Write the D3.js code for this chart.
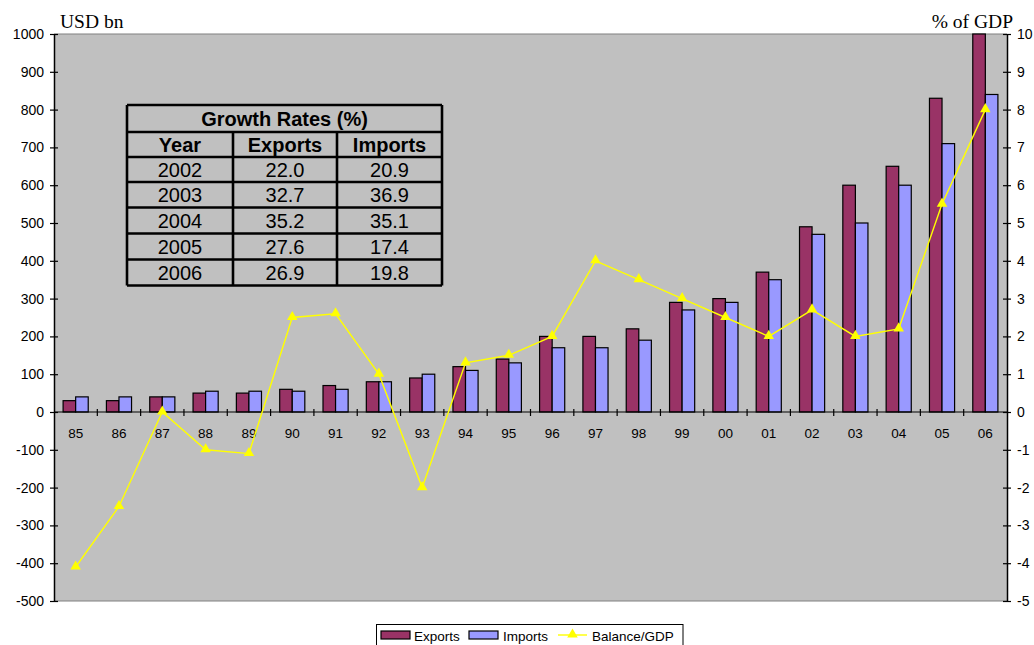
<!DOCTYPE html>
<html>
<head>
<meta charset="utf-8">
<script src="https://cdn.jsdelivr.net/npm/d3@7/dist/d3.min.js"></script>
<style>
  html, body { margin: 0; padding: 0; background: #ffffff; }
  svg { display: block; }
</style>
</head>
<body>
<svg id="chart" width="1034" height="645"></svg>
<script>
// Trade values (USD bn) and trade balance (% of GDP), 1985–2006
const years = ["85","86","87","88","89","90","91","92","93","94","95","96","97","98","99","00","01","02","03","04","05","06"];
const exportsBn = [30,30,40,50,50,60,70,80,90,120,140,200,200,220,290,300,370,490,600,650,830,1000];
const importsBn = [40,40,40,55,55,55,60,80,100,110,130,170,170,190,270,290,350,470,500,600,710,840];
const balanceGdp = [-4.1,-2.5,0,-1.0,-1.1,2.5,2.6,1.0,-2.0,1.3,1.5,2.0,4.0,3.5,3.0,2.5,2.0,2.7,2.0,2.2,5.5,8.0];

const leftTicks = [1000,900,800,700,600,500,400,300,200,100,0,-100,-200,-300,-400,-500];
const rightTicks = [10,9,8,7,6,5,4,3,2,1,0,-1,-2,-3,-4,-5];

// Inset table of growth rates
const tableTitle = "Growth Rates (%)";
const tableHeader = ["Year","Exports","Imports"];
const tableYears = ["2002","2003","2004","2005","2006"];
const tableExports = ["22.0","32.7","35.2","27.6","26.9"];
const tableImports = ["20.9","36.9","35.1","17.4","19.8"];

const seriesNames = ["Exports","Imports","Balance/GDP"];
const colors = { exports: "#993366", imports: "#9999ff", line: "#ffff00" };

const svg = d3.select("#chart");
const plot = { left: 54, right: 1007, top: 34, bottom: 601 };
const sans = "'Liberation Sans', Arial, sans-serif";
const serif = "'Liberation Serif', 'Times New Roman', serif";
const plainNum = d => String(d);   // plain hyphen-minus, no thousands separator

const x = d3.scaleBand().domain(years).range([plot.left, plot.right]).paddingInner(0).paddingOuter(0);
const yL = d3.scaleLinear().domain([-500, 1000]).range([plot.bottom, plot.top]);
const yR = d3.scaleLinear().domain([-5, 10]).range([plot.bottom, plot.top]);

const groupFrac = 0.58;
const barW = x.bandwidth() * groupFrac / 2;

// plot background
svg.append("rect")
  .attr("x", plot.left).attr("y", plot.top)
  .attr("width", plot.right - plot.left).attr("height", plot.bottom - plot.top)
  .attr("fill", "#c0c0c0");
svg.append("line").attr("x1", plot.left).attr("x2", plot.right).attr("y1", plot.top).attr("y2", plot.top)
  .attr("stroke", "#808080").attr("stroke-width", 1.2);
svg.append("line").attr("x1", plot.left).attr("x2", plot.right).attr("y1", plot.bottom).attr("y2", plot.bottom)
  .attr("stroke", "#808080").attr("stroke-width", 1.2);

// bars
const groups = svg.append("g").selectAll("g").data(years).join("g")
  .attr("transform", d => `translate(${x(d) + x.bandwidth() / 2 - barW},0)`);
groups.append("rect")
  .attr("x", 0).attr("width", barW)
  .attr("y", (d, i) => yL(exportsBn[i])).attr("height", (d, i) => yL(0) - yL(exportsBn[i]))
  .attr("fill", colors.exports).attr("stroke", "#000").attr("stroke-width", 1.2);
groups.append("rect")
  .attr("x", barW).attr("width", barW)
  .attr("y", (d, i) => yL(importsBn[i])).attr("height", (d, i) => yL(0) - yL(importsBn[i]))
  .attr("fill", colors.imports).attr("stroke", "#000").attr("stroke-width", 1.2);

// category axis at zero
const catAxis = svg.append("g");
catAxis.append("line").attr("x1", plot.left).attr("x2", plot.right).attr("y1", yL(0)).attr("y2", yL(0))
  .attr("stroke", "#000").attr("stroke-width", 1.2);
catAxis.selectAll("line.tk").data(years.slice(1)).join("line").attr("class", "tk")
  .attr("x1", d => x(d)).attr("x2", d => x(d)).attr("y1", yL(0) - 3).attr("y2", yL(0) + 4)
  .attr("stroke", "#000").attr("stroke-width", 1.2);
catAxis.selectAll("text").data(years).join("text")
  .attr("x", d => x(d) + x.bandwidth() / 2).attr("y", yL(0) + 26)
  .attr("text-anchor", "middle").attr("font-family", sans).attr("font-size", 13.5).attr("fill", "#000")
  .text(d => d);

// left axis
const leftAxis = d3.axisLeft(yL).tickValues(leftTicks).tickFormat(plainNum).tickSize(0).tickPadding(10);
const gl = svg.append("g").attr("transform", `translate(${plot.left},0)`).call(leftAxis);
gl.select(".domain").attr("stroke", "#000").attr("stroke-width", 1.5);
gl.selectAll(".tick text").attr("font-family", sans).attr("font-size", 14).attr("fill", "#000");
gl.selectAll(".tick").append("line").attr("x1", -4).attr("x2", 4).attr("stroke", "#000").attr("stroke-width", 1.2);

// right axis
const rightAxis = d3.axisRight(yR).tickValues(rightTicks).tickFormat(plainNum).tickSize(0).tickPadding(10);
const gr = svg.append("g").attr("transform", `translate(${plot.right},0)`).call(rightAxis);
gr.select(".domain").attr("stroke", "#000").attr("stroke-width", 1.5);
gr.selectAll(".tick text").attr("font-family", sans).attr("font-size", 14).attr("fill", "#000");
gr.selectAll(".tick").append("line").attr("x1", -4).attr("x2", 4).attr("stroke", "#000").attr("stroke-width", 1.2);

// axis titles
svg.append("text").attr("x", 60).attr("y", 28).attr("font-family", serif).attr("font-size", 19.5)
  .attr("fill", "#000").text("USD bn");
svg.append("text").attr("x", 1013).attr("y", 28).attr("text-anchor", "end").attr("font-family", serif)
  .attr("font-size", 19.5).attr("fill", "#000").text("% of GDP");

// balance line
const lineGen = d3.line().x((d, i) => x(years[i]) + x.bandwidth() / 2).y(d => yR(d));
svg.append("path").datum(balanceGdp).attr("d", lineGen)
  .attr("fill", "none").attr("stroke", colors.line).attr("stroke-width", 1.4);
const tri = d3.symbol().type(d3.symbolTriangle).size(48);
svg.append("g").selectAll("path").data(balanceGdp).join("path")
  .attr("transform", (d, i) => `translate(${x(years[i]) + x.bandwidth() / 2},${yR(d) - 0.5})`)
  .attr("d", tri).attr("fill", colors.line);

// growth-rate table
const tbl = { left: 127, top: 105, cols: [127, 233, 337, 442], rowH: [27, 25, 25, 25.5, 26, 26, 26] };
const rowY = [tbl.top];
tbl.rowH.forEach(h => rowY.push(rowY[rowY.length - 1] + h));
const tg = svg.append("g");
const stroke = { stroke: "#000", w: 2.6 };
// horizontal rules
rowY.forEach(yy => {
  tg.append("line").attr("x1", tbl.cols[0]).attr("x2", tbl.cols[3]).attr("y1", yy).attr("y2", yy)
    .attr("stroke", stroke.stroke).attr("stroke-width", stroke.w);
});
const tableBottom = rowY[rowY.length - 1];
// vertical rules (outer ones full height; inner ones below title row)
[tbl.cols[0], tbl.cols[3]].forEach(xx => {
  tg.append("line").attr("x1", xx).attr("x2", xx).attr("y1", rowY[0]).attr("y2", tableBottom)
    .attr("stroke", stroke.stroke).attr("stroke-width", stroke.w);
});
[tbl.cols[1], tbl.cols[2]].forEach(xx => {
  tg.append("line").attr("x1", xx).attr("x2", xx).attr("y1", rowY[1]).attr("y2", tableBottom)
    .attr("stroke", stroke.stroke).attr("stroke-width", stroke.w);
});
const colCenter = [0, 1, 2].map(i => (tbl.cols[i] + tbl.cols[i + 1]) / 2);
const rowMid = i => (rowY[i] + rowY[i + 1]) / 2 + 7;
tg.append("text").attr("x", (tbl.cols[0] + tbl.cols[3]) / 2).attr("y", rowMid(0))
  .attr("text-anchor", "middle").attr("font-family", sans).attr("font-weight", "bold").attr("font-size", 20)
  .text(tableTitle);
tableHeader.forEach((h, j) => {
  tg.append("text").attr("x", colCenter[j]).attr("y", rowMid(1))
    .attr("text-anchor", "middle").attr("font-family", sans).attr("font-weight", "bold").attr("font-size", 20)
    .text(h);
});
tableYears.forEach((yr, i) => {
  [yr, tableExports[i], tableImports[i]].forEach((v, j) => {
    tg.append("text").attr("x", colCenter[j]).attr("y", rowMid(i + 2))
      .attr("text-anchor", "middle").attr("font-family", sans).attr("font-size", 20).text(v);
  });
});

// legend
const lg = svg.append("g");
lg.append("rect").attr("x", 376.5).attr("y", 624.5).attr("width", 306.5).attr("height", 26)
  .attr("fill", "#fff").attr("stroke", "#000").attr("stroke-width", 1);
lg.append("rect").attr("x", 381).attr("y", 631).attr("width", 29).attr("height", 8)
  .attr("fill", colors.exports).attr("stroke", "#000").attr("stroke-width", 1.2);
lg.append("text").attr("x", 414).attr("y", 640.5).attr("font-family", sans).attr("font-size", 13.5).text(seriesNames[0]);
lg.append("rect").attr("x", 469).attr("y", 631).attr("width", 29).attr("height", 8)
  .attr("fill", colors.imports).attr("stroke", "#000").attr("stroke-width", 1.2);
lg.append("text").attr("x", 503).attr("y", 640.5).attr("font-family", sans).attr("font-size", 13.5).text(seriesNames[1]);
lg.append("line").attr("x1", 558).attr("x2", 587).attr("y1", 635).attr("y2", 635)
  .attr("stroke", colors.line).attr("stroke-width", 1.4);
lg.append("path").attr("transform", "translate(572.5,634.5)").attr("d", tri).attr("fill", colors.line);
lg.append("text").attr("x", 592).attr("y", 640.5).attr("font-family", sans).attr("font-size", 13.5).text(seriesNames[2]);
</script>
</body>
</html>
